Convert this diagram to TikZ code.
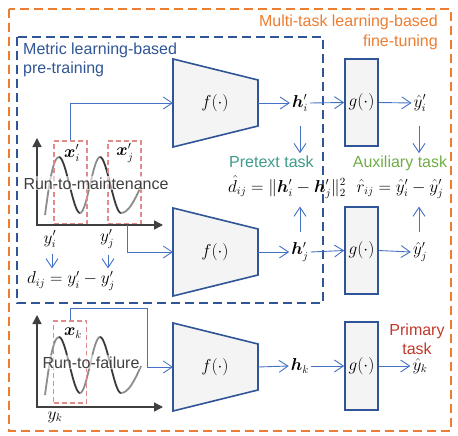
\documentclass[tikz,border=0pt]{standalone}
\usepackage{amsmath}
\usepackage{bm}
\usepackage{fontspec}
\setmainfont{Liberation Sans}
\usetikzlibrary{arrows.meta,calc}
\definecolor{orangeC}{HTML}{ED7D31}
\definecolor{blueD}{HTML}{2F5597}
\definecolor{blueA}{HTML}{4472C4}
\definecolor{shapeF}{HTML}{F4F4F4}
\definecolor{redB}{HTML}{E08A8A}
\definecolor{pretextC}{HTML}{3F9B8A}
\definecolor{auxC}{HTML}{70AD47}
\definecolor{primC}{HTML}{C0392B}
\definecolor{axisC}{HTML}{404040}
\definecolor{waveD}{HTML}{3A3A3A}
\definecolor{waveL}{HTML}{8C8C8C}
\begin{document}
\begin{tikzpicture}[x=1pt,y=-1pt,
  every node/.style={font=\fontsize{16}{19}\selectfont, inner sep=2pt},
  tight/.style={inner sep=0pt},
  arr/.style={draw=blueA, line width=0.9pt, -{Straight Barb[length=9pt,width=12pt,line width=0.9pt]}},
  trap/.style={draw=blueD, fill=shapeF, line width=1.6pt, line join=miter},
  gbox/.style={draw=blueD, fill=shapeF, line width=1.6pt, minimum width=33pt, minimum height=87pt, inner sep=0pt},
  redbox/.style={draw=redB, dash pattern=on 5pt off 3pt, line width=1.3pt, minimum width=33pt, minimum height=83pt, inner sep=0pt},
  outerbox/.style={draw=orangeC, line width=2.4pt, dash pattern=on 9pt off 5pt},
  innerbox/.style={draw=blueD, line width=2.4pt, dash pattern=on 9pt off 5pt},
  axisline/.style={draw=axisC, line width=1.4pt},
  wavedown/.style={draw=waveD, line width=1.8pt},
  waveup/.style={draw=waveL, line width=1.8pt},
  sigtext/.style={text=axisC, fill=white, fill opacity=0.55, text opacity=1, inner sep=1pt},
]
\useasboundingbox (0,0) rectangle (458,436);

% outer dashed boxes
\draw[outerbox] (9,9) rectangle (451,431);
\draw[innerbox] (17,37) rectangle (323,303);

% titles
\node[tight, text=blueD, anchor=base west] (mt1) at (23,55) {Metric learning-based};
\node[tight, text=blueD, anchor=base west] (mt2) at (23,74) {pre-training};
\node[tight, text=orangeC, anchor=base east] (ft1) at (438,27) {Multi-task learning-based};
\node[tight, text=orangeC, anchor=base east] (ft2) at (438,47) {fine-tuning};

% ---------- signals ----------
\foreach \dy in {0, 180}{
\begin{scope}[yshift=-\dy pt]
\draw[waveup] (45,215) .. controls (49,185) and (53,157) .. (59,157);
\draw[wavedown] (59,157) .. controls (66,157) and (73,213) .. (80,213);
\draw[waveup] (80,213) .. controls (87,213) and (93,157) .. (100,157);
\draw[wavedown] (100,157) .. controls (107,157) and (114,213) .. (121,213);
\draw[waveup] (121,213) .. controls (128,213) and (134,202) .. (141,186);
\end{scope}
}

\node[redbox] (bi) at (70.5,182.5) {};
\node[redbox] (bj) at (124.5,182.5) {};
\node[redbox, minimum height=82pt] (bk) at (70,362) {};

\draw[axisline, {Triangle[length=9pt,width=9pt]}-{Triangle[length=9pt,width=9pt]}] (37,138) -- (37,225) -- (163,225);
\draw[axisline, {Triangle[length=9pt,width=9pt]}-{Triangle[length=9pt,width=9pt]}] (37,315) -- (37,407) -- (163,407);

\node[sigtext, anchor=base] (rtm) at (96,189) {Run-to-maintenance};
\node[sigtext, anchor=base] (rtf) at (91,368) {Run-to-failure};

\node[tight] (lxi) at (72,153) {$\bm{x}_i'$};
\node[tight] (lxj) at (125,153) {$\bm{x}_j'$};
\node[tight] (lxk) at (73,333) {$\bm{x}_k$};
\node[tight] (yi) at (50,239) {$y_i'$};
\node[tight] (yj) at (107,239) {$y_j'$};
\node[tight] (yk) at (55,417) {$y_k$};
\node[tight] (dij) at (71,281) {$d_{ij}=y_i'-y_j'$};

\draw[arr] ([xshift=2pt,yshift=-6pt]yi.south) -- ([xshift=2pt,yshift=3pt]yi.south |- dij.north);
\draw[arr] ([xshift=1pt,yshift=-6pt]yj.south) -- ([xshift=1pt,yshift=3pt]yj.south |- dij.north);

% ---------- encoders ----------
\draw[trap] (173,59) -- (258,80) -- (258,126) -- (173,147) -- cycle;
\draw[trap] (173,208) -- (258,229) -- (258,275) -- (173,296) -- cycle;
\draw[trap] (173,323) -- (258,344) -- (258,390) -- (173,411) -- cycle;
\coordinate (f1in) at (173,103);
\coordinate (f2in) at (173,252);
\coordinate (f3in) at (173,367);
\coordinate (f1out) at (258,103);
\coordinate (f2out) at (258,252);
\coordinate (f3out) at (258,367);
\node (f1) at (215,103) {$f(\cdot)$};
\node (f2) at (215,252) {$f(\cdot)$};
\node (f3) at (215,367) {$f(\cdot)$};

\draw[arr] (bi.north) |- (f1in);
\draw[arr] ([xshift=2.5pt]bj.south) |- (f2in);
\draw[arr] (bk.north) -- ([yshift=12pt]bk.north) -| ([xshift=-26pt]f3in) -- (f3in);

% ---------- features ----------
\node (h1) at (300,103) {$\bm{h}_i'$};
\node (h2) at (300,252) {$\bm{h}_j'$};
\node (h3) at (300,366) {$\bm{h}_k$};
\draw[arr] (f1out) -- (h1.west);
\draw[arr] (f2out) -- (h2.west);
\draw[arr] (f3out) -- (h3.west);

\node[gbox] (g1) at (361.5,102.5) {$g(\cdot)$};
\node[gbox] (g2) at (361.5,250.5) {$g(\cdot)$};
\node[gbox, minimum height=88pt] (g3) at (361.5,366) {$g(\cdot)$};
\draw[arr] (h1.east) -- (g1.west);
\draw[arr] (h2.east) -- (g2.west);
\draw[arr] (h3.east) -- (g3.west);

\node (o1) at (420,103) {$\hat{y}_i'$};
\node (o2) at (420,252) {$\hat{y}_j'$};
\node (o3) at (420,366) {$\hat{y}_k$};
\draw[arr] (g1.east) -- (o1.west);
\draw[arr] (g2.east) -- (o2.west);
\draw[arr] (g3.east) -- (o3.west);

% ---------- tasks ----------
\node[tight, text=pretextC, anchor=base west] (pt) at (229,167) {Pretext task};
\node[tight, anchor=base west] (dform) at (228,192) {$\hat{d}_{ij}=\|\bm{h}_i'-\bm{h}_j'\|_2^2$};
\node[tight, text=auxC, anchor=base] (at) at (400,167) {Auxiliary task};
\node[tight, anchor=base] (rform) at (400,192) {$\hat{r}_{ij}=\hat{y}_i'-\hat{y}_j'$};
\node[tight, text=primC, anchor=base] (pm1) at (417,335) {Primary};
\node[tight, text=primC, anchor=base] (pm2) at (417,354) {task};

\draw[arr] ([yshift=-12pt]h1.south) -- ([yshift=2pt]h1.south |- pt.north);
\draw[arr] ([yshift=8pt]h2.north) -- ($(h2.north |- dform.south)+(0,8)$);
\draw[arr] ([xshift=-1pt,yshift=-12pt]o1.south) -- ([xshift=-1pt,yshift=2pt]o1.south |- at.north);
\draw[arr] ([xshift=-1pt,yshift=8pt]o2.north) -- ($([xshift=-1pt]o2.north |- rform.south)+(0,8)$);
\end{tikzpicture}
\end{document}
